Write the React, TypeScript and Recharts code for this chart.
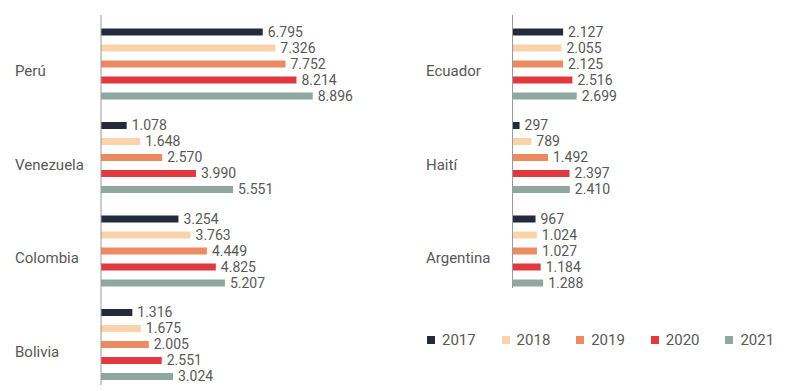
import React from "react";
import { BarChart, Bar, XAxis, YAxis, LabelList, Legend } from "recharts";

const years = ["2017", "2018", "2019", "2020", "2021"];
const colors = ["#232b3b", "#f9d4ab", "#ec8a62", "#e0393f", "#8fa79e"];

const leftCountries = ["Perú", "Venezuela", "Colombia", "Bolivia"];
const left2017 = [6795, 1078, 3254, 1316];
const left2018 = [7326, 1648, 3763, 1675];
const left2019 = [7752, 2570, 4449, 2005];
const left2020 = [8214, 3990, 4825, 2551];
const left2021 = [8896, 5551, 5207, 3024];

const rightCountries = ["Ecuador", "Haití", "Argentina"];
const right2017 = [2127, 297, 967];
const right2018 = [2055, 789, 1024];
const right2019 = [2125, 1492, 1027];
const right2020 = [2516, 2397, 1184];
const right2021 = [2699, 2410, 1288];

const buildRows = (cats: string[], series: number[][]) =>
  cats.map((c, i) => {
    const row: Record<string, any> = { country: c };
    years.forEach((y, k) => {
      row[y] = series[k][i];
    });
    return row;
  });

const leftData = buildRows(leftCountries, [left2017, left2018, left2019, left2020, left2021]);
const rightData = buildRows(rightCountries, [right2017, right2018, right2019, right2020, right2021]);

const fmt = (v: any) => {
  const n = Number(v);
  if (n < 1000) return String(n);
  return `${Math.floor(n / 1000)}.${String(n % 1000).padStart(3, "0")}`;
};

const FONT = "Roboto, 'Noto Sans', sans-serif";
const TEXT = "#585858";

const makeTick = (labelX: number) => (props: any) => {
  const { y, payload } = props;
  return (
    <text
      x={labelX}
      y={y + 7}
      textAnchor="start"
      dominantBaseline="central"
      fontFamily={FONT}
      fontSize={15}
      fill={TEXT}
    >
      {payload.value}
    </text>
  );
};

const renderBars = () =>
  years.map((y, k) => (
    <Bar key={y} dataKey={y} fill={colors[k]} barSize={7} isAnimationActive={false}>
      <LabelList
        dataKey={y}
        position="right"
        offset={5}
        formatter={fmt}
        fill={TEXT}
        fontFamily={FONT}
        fontSize={14}
      />
    </Bar>
  ));

const LegendContent = () => (
  <div
    style={{
      height: 62,
      display: "flex",
      alignItems: "flex-end",
      paddingLeft: 27,
      boxSizing: "border-box",
    }}
  >
    {years.map((y, k) => (
      <div
        key={y}
        style={{
          width: 80,
          height: 20,
          display: "flex",
          alignItems: "center",
          fontFamily: FONT,
          fontSize: 15,
          color: TEXT,
        }}
      >
        <span
          style={{
            display: "inline-block",
            width: 8,
            height: 8,
            background: colors[k],
            marginRight: 7,
          }}
        />
        {y}
      </div>
    ))}
  </div>
);

export default function App() {
  return (
    <div
      style={{
        position: "absolute",
        left: 0,
        top: 0,
        width: 800,
        height: 391,
        background: "#ffffff",
        display: "flex",
      }}
    >
      <BarChart
        width={400}
        height={391}
        data={leftData}
        layout="vertical"
        barGap={9}
        margin={{ top: 15, right: 61, bottom: 6, left: 0 }}
      >
        <XAxis type="number" domain={[0, 10000]} hide />
        <YAxis
          type="category"
          dataKey="country"
          width={101}
          padding={{ top: 2.5, bottom: -6.5 }}
          axisLine={{ stroke: "#9a9a9a", strokeWidth: 1 }}
          tickLine={false}
          tick={makeTick(15)}
          interval={0}
        />
        {renderBars()}
      </BarChart>
      <BarChart
        width={400}
        height={391}
        data={rightData}
        layout="vertical"
        barGap={9}
        margin={{ top: 15, right: 49.5, bottom: 41, left: 0 }}
      >
        <XAxis type="number" domain={[0, 10000]} hide />
        <YAxis
          type="category"
          dataKey="country"
          width={112.5}
          padding={{ top: 2.5, bottom: -10 }}
          axisLine={{ stroke: "#9a9a9a", strokeWidth: 1 }}
          tickLine={false}
          tick={makeTick(26)}
          interval={0}
        />
        {renderBars()}
        <Legend
          verticalAlign="bottom"
          align="left"
          content={<LegendContent />}
          wrapperStyle={{ left: 0, bottom: 41, width: 400, height: 62 }}
        />
      </BarChart>
    </div>
  );
}
